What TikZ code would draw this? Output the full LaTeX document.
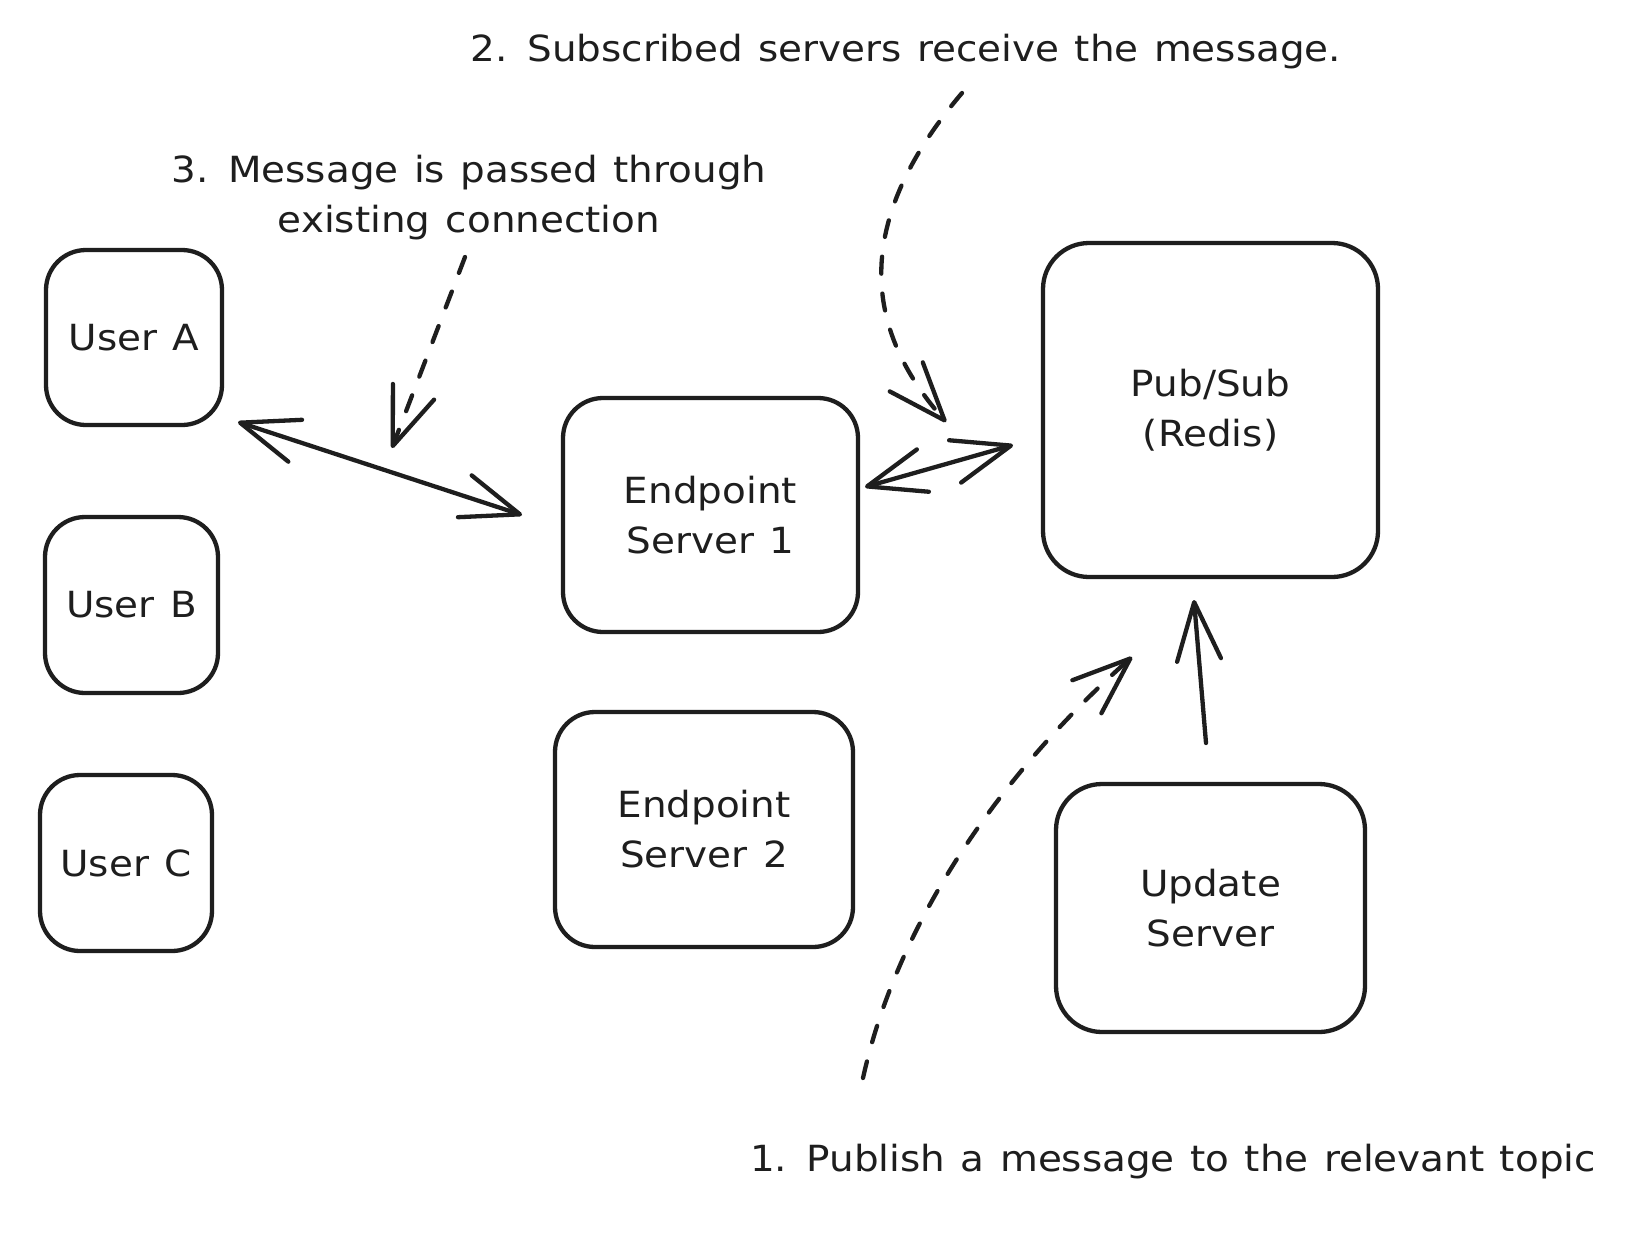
\documentclass[tikz,border=0pt]{standalone}
\usepackage{fontspec}
\setmainfont{DejaVu Sans}[FakeStretch=1.08, WordSpace=1.25]
\usetikzlibrary{arrows.meta,calc}
\definecolor{ink}{HTML}{1E1E1E}
\begin{document}
\begin{tikzpicture}[x=1pt,y=-1pt,
  every node/.style={font=\fontsize{36}{50}\selectfont, text=ink},
  box/.style={draw=ink, line width=4.3pt, rounded corners=40pt, align=center, inner sep=0pt},
  lbl/.style={align=center, inner sep=0pt},
  conn/.style={draw=ink, line width=4.3pt, line cap=round, line join=round},
  dashconn/.style={conn, dash pattern=on 17pt off 20pt},
  vtip/.tip={Straight Barb[length=58pt, width=44pt, line width=4.3pt, round]},
]
\fill[white] (0,0) rectangle (1638,1240);
\useasboundingbox (0,0) rectangle (1638,1240);

% boxes
\node[box, minimum width=176pt, minimum height=175pt] (userA) at (134,337.5) {User A};
\node[box, minimum width=173pt, minimum height=176pt] (userB) at (131.5,605) {User B};
\node[box, minimum width=172pt, minimum height=176pt] (userC) at (126,863) {User C};
\node[box, minimum width=295pt, minimum height=234pt] (ep1) at (710.5,515) {Endpoint\\Server 1};
\node[box, minimum width=298pt, minimum height=235pt] (ep2) at (704,829.5) {Endpoint\\Server 2};
\node[box, minimum width=335pt, minimum height=334pt, rounded corners=46pt] (pubsub) at (1210.5,410) {Pub/Sub\\(Redis)};
\node[box, minimum width=309pt, minimum height=248pt, rounded corners=46pt] (update) at (1210.5,908) {Update\\Server};

% labels
\node[lbl, anchor=base] (l2) at (906,61) {2. Subscribed servers receive the message.};
\node[lbl, anchor=base] (l3) at (469,232) {3. Message is passed through\\existing connection};
\node[lbl, anchor=base] (l1) at (1173,1171) {1. Publish a message to the relevant topic};

% connector end points
\coordinate (ua) at (238,422);
\coordinate (e1a) at (522,515);
\coordinate (l3s) at (465,257);
\coordinate (l3e) at (392,448);
\coordinate (e1b) at (865,487);
\coordinate (psa) at (1013,445);
\coordinate (l2s) at (962,93);
\coordinate (l2e) at (946,422);
\coordinate (l1s) at (863,1078);
\coordinate (l1e) at (1132,657);
\coordinate (upa) at (1206,743);
\coordinate (psb) at (1194,600);

% connectors
\draw[conn, {vtip}-{vtip}] (ua) -- (e1a);
\draw[dashconn, -{vtip}] (l3s) -- (l3e);
\draw[conn, {vtip}-{vtip}] (e1b) -- (psa);
\draw[dashconn, -{vtip}] (l2s) .. controls (850,225) and (865,330) .. (l2e);
\draw[dashconn, -{vtip}] (l1s) .. controls (900,910) and (1015,760) .. (l1e);
\draw[conn, -{vtip}] (upa) -- (psb);
\end{tikzpicture}
\end{document}
